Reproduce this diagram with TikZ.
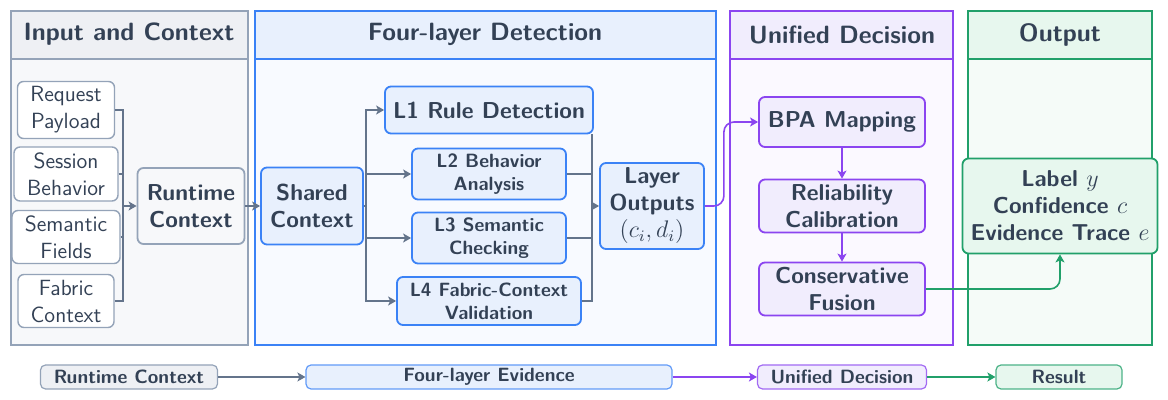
\documentclass[tikz,border=0pt]{standalone}
\usetikzlibrary{arrows.meta,positioning}
\definecolor{ink}{HTML}{334155}
\definecolor{grayhd}{HTML}{EEF0F4}
\definecolor{graybg}{HTML}{F7F8FA}
\definecolor{graybd}{HTML}{94A3B8}
\definecolor{grayln}{HTML}{64748B}
\definecolor{bluehd}{HTML}{E8F0FD}
\definecolor{bluebg}{HTML}{F8FAFF}
\definecolor{bluebd}{HTML}{3B82F6}
\definecolor{violethd}{HTML}{F1EDFD}
\definecolor{violetbg}{HTML}{FBF9FF}
\definecolor{violetbd}{HTML}{8B45F0}
\definecolor{greenhd}{HTML}{E7F7EE}
\definecolor{greenbg}{HTML}{F5FBF8}
\definecolor{greenbd}{HTML}{21A06A}
\tikzset{
  box/.style={rounded corners=3pt, line width=0.9pt, align=center, text=ink, inner sep=2pt,
    font=\sffamily\bfseries\fontsize{11.5}{13.5}\selectfont},
  small/.style={font=\sffamily\bfseries\fontsize{9.6}{11.5}\selectfont},
  inbox/.style={box, draw=graybd, fill=white, line width=0.7pt, font=\sffamily\fontsize{11}{13.5}\selectfont},
  gbox/.style={box, draw=graybd, fill=graybg},
  bbox/.style={box, draw=bluebd, fill=bluehd},
  pbox/.style={box, draw=violetbd, fill=violethd, minimum width=83pt},
  obox/.style={box, draw=greenbd, fill=greenhd},
  legend/.style={rounded corners=2.5pt, line width=0.6pt, text=ink, minimum height=12pt, inner sep=1pt,
    font=\sffamily\bfseries\fontsize{9.6}{11}\selectfont},
  title/.style={text=ink, anchor=base, font=\sffamily\bfseries\fontsize{12.5}{14}\selectfont},
  link/.style={draw=grayln, line width=0.7pt},
  vlink/.style={draw=violetbd, line width=0.8pt},
  glink/.style={draw=greenbd, line width=0.8pt},
  >={Stealth[length=4pt,width=4.5pt,inset=1pt]}
}
\begin{document}
\begin{tikzpicture}[x=0.5pt,y=-0.5pt]
\useasboundingbox (0,0) rectangle (1168,400);
\foreach \xa/\xb/\c in {11/248/gray, 255/716/blue, 730/953/violet, 968/1152/green} {
  \fill[\c hd] (\xa,11) rectangle (\xb,59);
  \fill[\c bg] (\xa,59) rectangle (\xb,345);
  \draw[\c bd, line width=0.7pt] (\xa,11) rectangle (\xb,345) (\xa,59) -- (\xb,59);
}
\node[title] (tin) at (129,41) {Input and Context};
\node[title] (tfour) at (485,41) {Four-layer Detection};
\node[title] (tuni) at (842,44) {Unified Decision};
\node[title] (tout) at (1060,42) {Output};

\coordinate (inbus) at (123,206);
\coordinate (lbus) at (366,206);
\coordinate (rbus) at (592,206);

\node[inbox, minimum width=48.5pt, minimum height=28.5pt] (rp) at (66,110) {Request\\Payload};
\node[inbox, minimum width=52pt, minimum height=27pt] (sb) at (66,174) {Session\\Behavior};
\node[inbox, minimum width=54pt, minimum height=26.5pt] (sf) at (66,237) {Semantic\\Fields};
\node[inbox, minimum width=48pt, minimum height=26.5pt] (fc) at (66,301) {Fabric\\Context};
\node[gbox, minimum width=53.5pt, minimum height=38pt] (rc) at (191,206) {Runtime\\Context};
\node[bbox, minimum width=51pt, minimum height=38.5pt] (sc) at (312,206) {Shared\\Context};
\node[bbox, minimum width=104pt, minimum height=23.5pt] (l1) at (489,110) {L1 Rule Detection};
\node[bbox, small, minimum width=77pt, minimum height=25.5pt] (l2) at (489,174) {L2 Behavior\\Analysis};
\node[bbox, small, minimum width=77pt, minimum height=25.5pt] (l3) at (489,238) {L3 Semantic\\Checking};
\node[bbox, small, minimum width=92pt, minimum height=24pt] (l4) at (489,301) {L4 Fabric-Context\\Validation};
\node[bbox, minimum width=52pt, minimum height=43pt] (lo) at (652,206) {Layer\\Outputs\\$(c_i,d_i)$};
\node[pbox, minimum height=25pt] (bpa) at (842,122) {BPA Mapping};
\node[pbox, minimum height=26.5pt] (rel) at (842,206) {Reliability\\Calibration};
\node[pbox, minimum height=26.5pt] (cf) at (842,289) {Conservative\\Fusion};
\node[obox, minimum width=97.5pt, minimum height=47.5pt] (out) at (1060,206) {Label $y$\\Confidence $c$\\Evidence Trace $e$};

\foreach \n in {rp,sb,sf,fc} \draw[link] (\n.east) -| (inbus);
\draw[link,->] (inbus) -- (rc.west);
\draw[link,->] (rc) -- (sc);
\draw[link] (sc.east) -- (lbus);
\foreach \n in {l1,l2,l3,l4} \draw[link,->] (lbus) |- (\n.west);
\foreach \n in {l2,l3,l4} \draw[link] (\n.east) -| (rbus);
\draw[link] (rbus |- l1.south) -- (rbus);
\draw[link,->] (rbus) -- (lo.west);
\draw[vlink,->,rounded corners=5pt] (lo.east) -- ++(19,0) |- (bpa.west);
\draw[vlink,->] (bpa) -- (rel);
\draw[vlink,->] (rel) -- (cf);
\draw[glink,->,rounded corners=5pt] (cf.east) -| (out.south);

\node[legend, draw=graybd, fill=grayhd, minimum width=88.5pt] (lg1) at (129,377) {Runtime Context};
\node[legend, draw=bluebd!80, fill=bluehd, minimum width=183pt] (lg2) at (489,377) {Four-layer Evidence};
\node[legend, draw=violetbd!80, fill=violethd, minimum width=84.5pt] (lg3) at (842,377) {Unified Decision};
\node[legend, draw=greenbd!80, fill=greenhd, minimum width=63pt] (lg4) at (1059,377) {Result};
\draw[link,->] (lg1) -- (lg2);
\draw[vlink,->] (lg2) -- (lg3);
\draw[glink,->] (lg3) -- (lg4);
\end{tikzpicture}
\end{document}
